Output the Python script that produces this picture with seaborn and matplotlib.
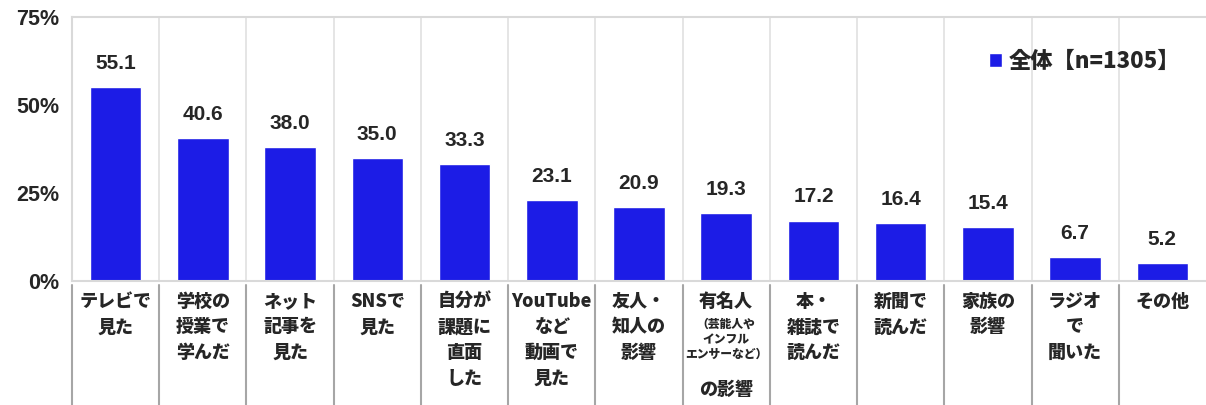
import matplotlib
matplotlib.use("Agg")
import matplotlib.pyplot as plt
import matplotlib.transforms as mtransforms
import pandas as pd
import seaborn as sns

CATEGORIES = [
    "テレビで\n見た", "学校の\n授業で\n学んだ", "ネット\n記事を\n見た", "SNSで\n見た",
    "自分が\n課題に\n直面\nした", "YouTube\nなど\n動画で\n見た", "友人・\n知人の\n影響",
    "有名人", "本・\n雑誌で\n読んだ", "新聞で\n読んだ", "家族の\n影響", "ラジオ\nで\n聞いた",
    "その他",
]
VALUES = [55.1, 40.6, 38.0, 35.0, 33.3, 23.1, 20.9, 19.3, 17.2, 16.4, 15.4, 6.7, 5.2]
SERIES = "全体【n=1305】"
Y_TICKS = [0, 25, 50, 75]

BAR_COLOR = "#1c1ce6"
FONT = ["Noto Sans CJK JP", "DejaVu Sans"]
NUM_FONT = ["Liberation Sans", "DejaVu Sans"]

sns.set_style("white")
plt.rcParams["font.family"] = FONT

df = pd.DataFrame({"cat": CATEGORIES, "val": VALUES, "series": SERIES})

fig = plt.figure(figsize=(12.06, 4.05), dpi=100)
ax = fig.add_axes([0.0597, 0.306, 0.9403, 0.652])

sns.barplot(data=df, x="cat", y="val", hue="series", palette=[BAR_COLOR],
            saturation=1, width=0.59, ax=ax, legend=True)

ax.set_ylim(0, 75)
ax.set_xlim(-0.5, len(CATEGORIES) - 0.5)
ax.set_yticks(Y_TICKS)
ax.set_yticklabels([f"{t}%" for t in Y_TICKS], fontsize=15.5, fontweight="bold",
                   family=NUM_FONT)
ax.set_xlabel("")
ax.set_ylabel("")

# value labels
for i, v in enumerate(VALUES):
    ax.text(i, v + 4, f"{v:.1f}", ha="center", va="bottom", fontsize=15,
            fontweight="bold", family=NUM_FONT)

# frame and grid
ax.spines["right"].set_visible(False)
for side in ["left", "bottom", "top"]:
    ax.spines[side].set_color("#d9d9d9")
    ax.spines[side].set_linewidth(1.5)
ax.tick_params(axis="y", length=6, color="#d9d9d9", width=1.5, pad=3)
ax.tick_params(axis="x", length=0)
for i in range(len(CATEGORIES) - 1):
    ax.axvline(i + 0.5, color="#e0e0e0", linewidth=1.2, zorder=0)

# category labels below the axis
ax.set_xticklabels([])
trans = mtransforms.blended_transform_factory(ax.transData, ax.transAxes)
for i, lab in enumerate(CATEGORIES):
    if lab == "有名人":
        ax.text(i, -0.04, "有名人", transform=trans, ha="center", va="top",
                fontsize=13, fontweight="black")
        ax.text(i, -0.14, "（芸能人や\nインフル\nエンサーなど）", transform=trans,
                ha="center", va="top", fontsize=8.5, fontweight="black", linespacing=1.3)
        ax.text(i, -0.375, "の影響", transform=trans, ha="center", va="top",
                fontsize=13, fontweight="black")
    else:
        ax.text(i, -0.04, lab, transform=trans, ha="center", va="top",
                fontsize=13, fontweight="black", linespacing=1.45)
for i in range(len(CATEGORIES)):
    ax.plot([i - 0.5, i - 0.5], [-0.015, -0.48], transform=trans, color="#a6a6a6",
            linewidth=1.5, clip_on=False)

leg = ax.legend(loc="upper right", bbox_to_anchor=(0.995, 0.95), frameon=False,
                handlelength=0.6, handleheight=0.6, handletextpad=0.3,
                prop={"family": FONT, "weight": "black", "size": 16})

fig.savefig("out.png", dpi=100)
